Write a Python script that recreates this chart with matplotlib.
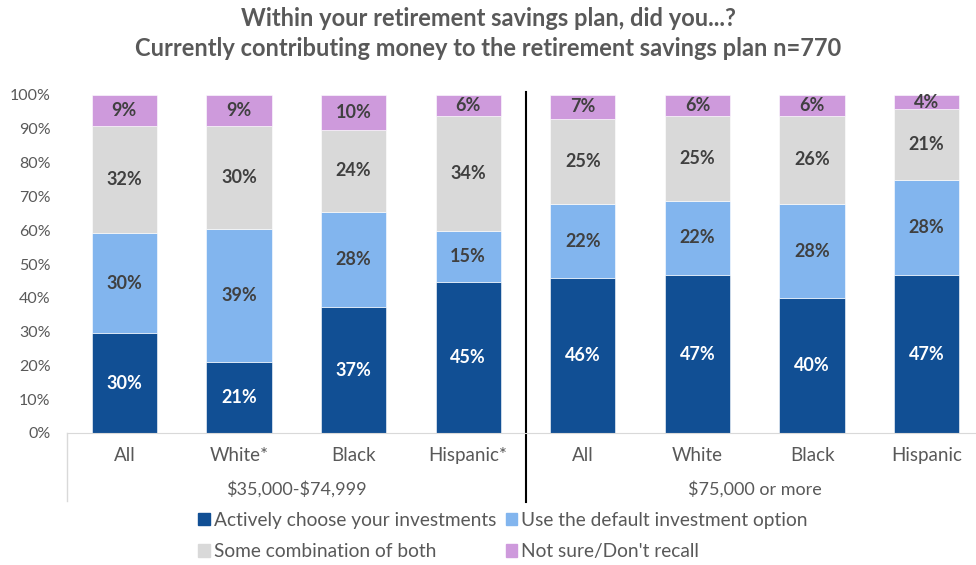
import matplotlib.pyplot as plt
from matplotlib.patches import Patch
import numpy as np

plt.rcParams['font.family'] = ['Lato', 'DejaVu Sans']

# data (percent)
categories = ["All", "White*", "Black", "Hispanic*", "All", "White", "Black", "Hispanic"]
income_groups = ["\\$35,000-\\$74,999", "\\$75,000 or more"]
series_names = ["Actively choose your investments", "Use the default investment option",
                "Some combination of both", "Not sure/Don't recall"]
active   = [29.5, 20.9, 37.2, 44.8, 45.8, 46.7, 39.8, 46.7]
default  = [29.6, 39.4, 28.2, 15.0, 22.0, 22.0, 28.0, 28.2]
combo    = [31.8, 30.4, 24.3, 34.1, 25.1, 25.1, 26.1, 20.9]
notsure  = [9.1, 9.3, 10.3, 6.1, 7.1, 6.1, 6.1, 4.2]
labels_active  = [30, 21, 37, 45, 46, 47, 40, 47]
labels_default = [30, 39, 28, 15, 22, 22, 28, 28]
labels_combo   = [32, 30, 24, 34, 25, 25, 26, 21]
labels_notsure = [9, 9, 10, 6, 7, 6, 6, 4]

colors = ["#114F94", "#82B5EE", "#D9D9D9", "#CE9ADC"]
txt_col = "#595959"

W, H = 976, 565
fig = plt.figure(figsize=(W / 100, H / 100), dpi=100)
ax = fig.add_axes([67 / W, (H - 433) / H, (976 - 67) / W, (433 - 95) / H])

x = np.arange(len(categories))
bottom = np.zeros(len(categories))
series = [active, default, combo, notsure]
labs = [labels_active, labels_default, labels_combo, labels_notsure]
for i, (vals, lab) in enumerate(zip(series, labs)):
    vals = np.array(vals)
    ax.bar(x, vals, bottom=bottom, width=0.57, color=colors[i], edgecolor="white", linewidth=0.4)
    for xi, b, v, l in zip(x, bottom, vals, lab):
        ax.text(xi, b + v / 2, f"{l}%", ha="center", va="center", fontsize=13, fontweight="bold",
                color="white" if i == 0 else "#404040")
    bottom += vals

ax.set_xlim(-0.5, 7.43)
ax.set_ylim(0, 100)
ax.set_yticks(range(0, 101, 10))
ax.set_yticklabels([f"{v}%" for v in range(0, 101, 10)], fontsize=11.5, color=txt_col)
ax.tick_params(axis="y", length=0, pad=12)
ax.set_xticks([])
for s in ["top", "right", "left"]:
    ax.spines[s].set_visible(False)
ax.spines["bottom"].set_color("#D9D9D9")

# category and group labels below the axis
trans = ax.get_xaxis_transform()
for xi, c in zip(x, categories):
    ax.text(xi, -0.068, c, transform=trans, ha="center", va="center", fontsize=13.5, color=txt_col)
ax.text(1.5, -0.165, income_groups[0], transform=trans, ha="center", va="center", fontsize=13, color=txt_col)
ax.text(5.5, -0.165, income_groups[1], transform=trans, ha="center", va="center", fontsize=13, color=txt_col)
ax.plot([-0.5, -0.5], [0, -0.2], transform=trans, color="#D9D9D9", lw=1, clip_on=False)
ax.plot([3.5, 3.5], [1.01, -0.205], transform=trans, color="black", lw=1.5, clip_on=False)

fig.text(0.5, 0.968, "Within your retirement savings plan, did you...?", ha="center", va="center",
         fontsize=17, fontweight="bold", color=txt_col)
fig.text(0.5, 0.915, "Currently contributing money to the retirement savings plan n=770", ha="center",
         va="center", fontsize=17, fontweight="bold", color=txt_col)

handles = [Patch(color=c) for c in colors]
order = [0, 2, 1, 3]
fig.legend([handles[i] for i in order], [series_names[i] for i in order], ncol=2,
           loc="center", bbox_to_anchor=(503 / W, (H - 536) / H), frameon=False, fontsize=13.8,
           handlelength=0.6, handleheight=0.6, handletextpad=0.2, columnspacing=0.5,
           labelspacing=0.75, labelcolor=txt_col)

fig.savefig("out.png", dpi=100)
